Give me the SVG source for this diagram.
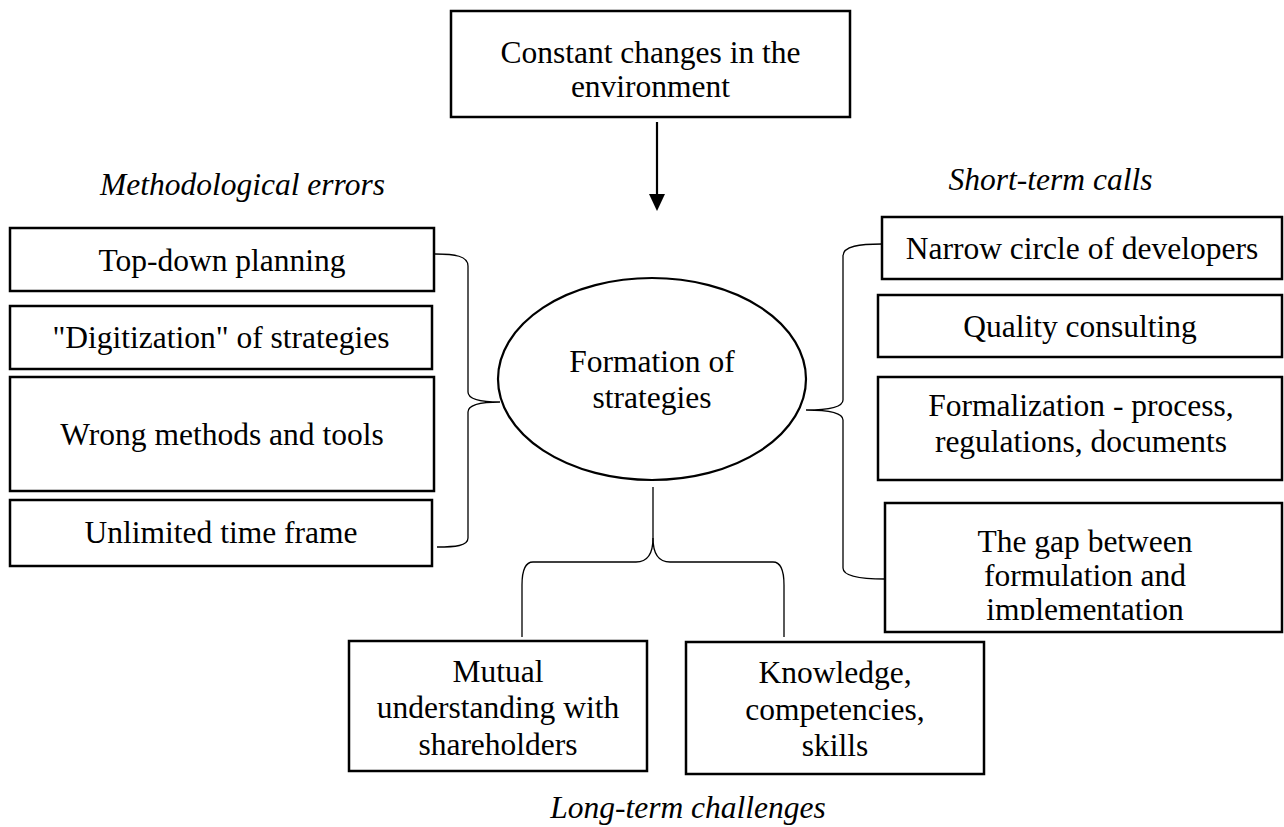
<svg xmlns="http://www.w3.org/2000/svg" width="1284" height="827" viewBox="0 0 1284 827">
<style>
.box{fill:#fff;stroke:#000;stroke-width:2.5}
text{font-family:'Liberation Serif','Times New Roman','DejaVu Serif',serif;font-size:31.5px;fill:#000;text-anchor:middle}
.i{font-style:italic}
.br{fill:none;stroke:#000;stroke-width:1.3}
</style>
<defs>
<clipPath id="gapclip"><rect x="885" y="503" width="398" height="117"/></clipPath>
</defs>
<rect width="1284" height="827" fill="#fff"/>

<g id="connectors">
<line x1="657" y1="122" x2="657" y2="194" stroke="#000" stroke-width="2.2"/>
<path d="M649,194 L665,194 L657,211 Z" fill="#000"/>
<path class="br" d="M435,254 C455,254 468,256 468,266 L468,392 C468,400 485,402 500,402 C485,402 468,404 468,412 L468,538 C468,546 455,547 437,547"/>
<path class="br" d="M882,244 C860,244 843,246 843,256 L843,400 C843,408 825,410 806,410 C825,410 843,412 843,420 L843,568 C843,576 860,579 885,579"/>
<path class="br" d="M653,487 L653,538 C653,555 660,562 670,562 L773,562 C780,562 784,570 784,585 L784,637"/>
<path class="br" d="M653,538 C653,555 646,562 636,562 L533,562 C526,562 522,570 522,585 L522,637"/>
</g>

<g id="env" font-family="Liberation Serif, serif">
<rect class="box" x="451" y="11" width="399" height="106"/>
<text x="650.5" y="63">Constant changes in the</text>
<text x="650.5" y="97">environment</text>
</g>

<g id="center">
<ellipse cx="652" cy="379" rx="154" ry="101" fill="#fff" stroke="#000" stroke-width="2.2"/>
<text x="652" y="372">Formation of</text>
<text x="652" y="408">strategies</text>
</g>

<text class="i" x="242.5" y="195">Methodological errors</text>
<text class="i" x="1050.5" y="190">Short-term calls</text>
<text class="i" x="688" y="818">Long-term challenges</text>

<g id="topdown">
<rect class="box" x="10" y="228" width="424" height="63"/>
<text x="222" y="271">Top-down planning</text>
</g>
<g id="digit">
<rect class="box" x="10" y="306" width="422" height="63"/>
<text x="221" y="348">"Digitization" of strategies</text>
</g>
<g id="wrong">
<rect class="box" x="10" y="377" width="424" height="114"/>
<text x="222" y="445">Wrong methods and tools</text>
</g>
<g id="unlimited">
<rect class="box" x="10" y="500" width="422" height="66"/>
<text x="221" y="543">Unlimited time frame</text>
</g>

<g id="narrow">
<rect class="box" x="882" y="217" width="400" height="62"/>
<text x="1082" y="259">Narrow circle of developers</text>
</g>
<g id="quality">
<rect class="box" x="878" y="295" width="404" height="62"/>
<text x="1080" y="337">Quality consulting</text>
</g>
<g id="formal">
<rect class="box" x="878" y="377" width="404" height="103"/>
<text x="1081" y="416">Formalization - process,</text>
<text x="1081" y="452">regulations, documents</text>
</g>
<g id="gap">
<rect class="box" x="885" y="503" width="397" height="129"/>
<g clip-path="url(#gapclip)">
<text x="1085" y="552">The gap between</text>
<text x="1085" y="586">formulation and</text>
<text x="1085" y="620">implementation</text>
</g>
</g>

<g id="mutual">
<rect class="box" x="349" y="641" width="298" height="130"/>
<text x="498" y="682">Mutual</text>
<text x="498" y="718">understanding with</text>
<text x="498" y="755">shareholders</text>
</g>
<g id="knowledge">
<rect class="box" x="686" y="642" width="298" height="132"/>
<text x="835" y="683">Knowledge,</text>
<text x="835" y="720">competencies,</text>
<text x="835" y="756">skills</text>
</g>
</svg>
